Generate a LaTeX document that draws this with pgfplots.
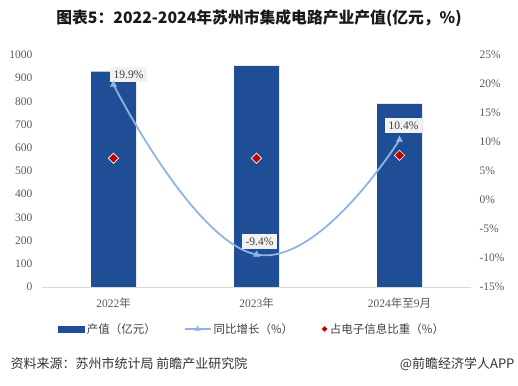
\documentclass[border=0pt]{standalone}
\usepackage{fontspec}
\setmainfont{Liberation Serif}
\newfontfamily\cjk{Noto Sans CJK SC}
\usepackage{pgfplots}
\pgfplotsset{compat=1.18}
\definecolor{barblue}{HTML}{1F4E97}
\definecolor{lineblue}{HTML}{8EB4E3}
\definecolor{dred}{HTML}{C00000}
\definecolor{tickgray}{HTML}{595959}
\definecolor{labgray}{HTML}{F2F2F2}
\definecolor{txtgray}{HTML}{404040}
\begin{document}
\begin{tikzpicture}[x=1pt,y=1pt]
\path (0,0) rectangle (518,385);
\node[font=\cjk\bfseries\fontsize{15.8}{19}\selectfont, text=black!90] at (259,367) {图表5：2022-2024年苏州市集成电路产业产值(亿元，\%)};
\begin{axis}[
  at={(42pt,98pt)}, anchor=south west,
  scale only axis, width=429pt, height=232pt,
  xmin=-0.5, xmax=2.5, ymin=0, ymax=1000,
  axis x line*=bottom, axis y line*=left,
  x axis line style={draw=black!15, line width=0.8pt, -},
  y axis line style={draw=none},
  major tick length=0pt,
  xtick={0,1,2},
  xticklabels={2022{\cjk 年}, 2023{\cjk 年}, 2024{\cjk 年至}9{\cjk 月}},
  ytick={0,100,...,1000},
  /pgf/number format/assume math mode=true,
  /pgf/number format/1000 sep={},
  tick label style={font=\fontsize{11.5}{13}\selectfont, text=tickgray},
  yticklabel style={xshift=-6pt},
  xticklabel style={yshift=-7pt},
  clip=false,
]
\addplot[ybar, bar width=45pt, fill=barblue, draw=none] coordinates {(0,928) (1,953) (2,789)};
\end{axis}
\begin{axis}[
  at={(42pt,98pt)}, anchor=south west,
  scale only axis, width=429pt, height=232pt,
  xmin=-0.5, xmax=2.5, ymin=-15, ymax=25,
  axis x line=none, axis y line*=right,
  y axis line style={draw=none},
  major tick length=0pt,
  ytick={-15,-10,...,25},
  yticklabels={-15\%,-10\%,-5\%,0\%,5\%,10\%,15\%,20\%,25\%},
  tick label style={font=\fontsize{11.5}{13}\selectfont, text=tickgray},
  yticklabel style={anchor=west, xshift=5pt},
  clip=false,
  legend columns=3,
  legend style={at={(0.49,-0.181)}, anchor=center, draw=none, fill=none,
    font=\cjk\fontsize{11.5}{13}\selectfont, text=txtgray,
    /tikz/every even column/.append style={column sep=26pt}},
  legend cell align=left,
]
\addlegendimage{legend image code/.code={\fill[barblue] (0pt,-3pt) rectangle (26pt,3pt);}}
\addlegendentry{产值（亿元）}
\addplot[lineblue, line width=1.8pt, smooth, tension=0.8, mark=triangle*, mark size=3.5pt,
  mark options={fill=lineblue, draw=lineblue, line width=0.5pt},
  legend image code/.code={\draw[lineblue, line width=1.8pt] (0pt,0pt) -- (26pt,0pt); \draw[lineblue, fill=lineblue] plot[mark=triangle*, mark size=3pt] coordinates {(13pt,0pt)};}]
  coordinates {(0,19.9) (1,-9.4) (2,10.4)};
\addlegendentry{同比增长（\%）}
\addplot[only marks, mark=square*, mark size=3.6pt,
  mark options={rotate=45, fill=dred, draw=white, line width=0.6pt},
  legend image code/.code={\draw[fill=dred, draw=white, line width=0.5pt] plot[mark=square*, mark size=2.4pt, mark options={rotate=45}] coordinates {(13pt,0pt)};}]
  coordinates {(0,7.2) (1,7.2) (2,7.7)};
\addlegendentry{占电子信息比重（\%）}
\node[fill=labgray, text=txtgray, font=\fontsize{11.5}{13}\selectfont, inner xsep=3.5pt, inner ysep=3.5pt, xshift=15pt, yshift=10pt] at (axis cs:0,19.9) {19.9\%};
\node[fill=labgray, text=txtgray, font=\fontsize{11.5}{13}\selectfont, inner xsep=3.5pt, inner ysep=3.5pt, xshift=3pt, yshift=13pt] at (axis cs:1,-9.4) {-9.4\%};
\node[fill=labgray, text=txtgray, font=\fontsize{11.5}{13}\selectfont, inner xsep=3.5pt, inner ysep=3.5pt, xshift=4pt, yshift=14pt] at (axis cs:2,10.4) {10.4\%};
\end{axis}
\node[anchor=west, font=\cjk\fontsize{13}{15}\selectfont, text=black!80] at (7,21) {资料来源：苏州市统计局 前瞻产业研究院};
\node[anchor=east, font=\cjk\fontsize{13}{15}\selectfont, text=black!80] at (518,21) {@前瞻经济学人APP};
\end{tikzpicture}
\end{document}
